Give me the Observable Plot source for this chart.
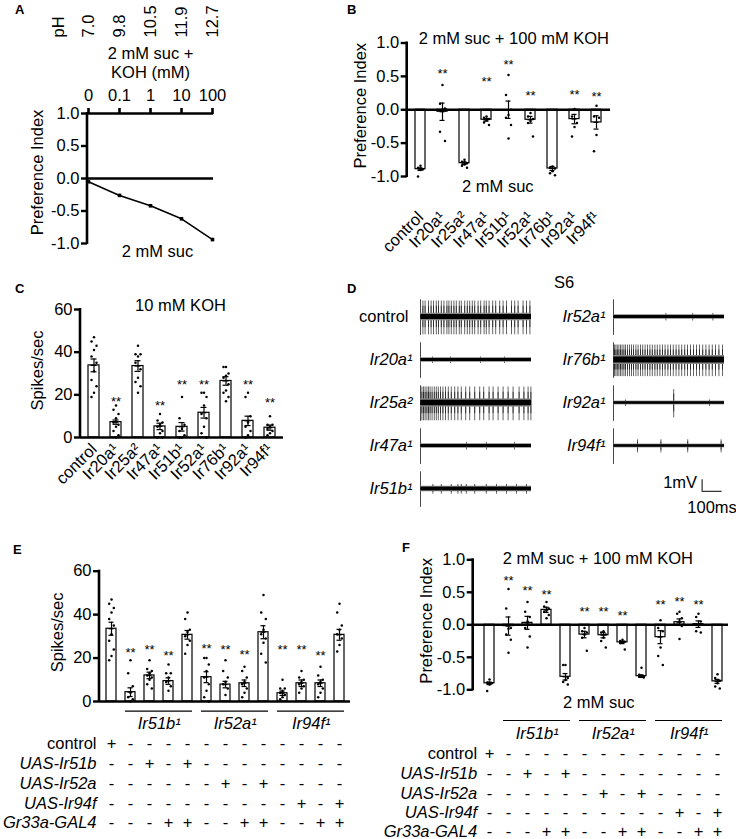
<!DOCTYPE html>
<html><head><meta charset="utf-8">
<script src="https://cdn.jsdelivr.net/npm/d3@7"></script>
<script src="https://cdn.jsdelivr.net/npm/@observablehq/plot@0.6"></script>
<style>
body{margin:0;background:#fff;}
#fig{position:relative;width:736px;height:839px;overflow:hidden;font-family:"Liberation Sans",Arial,sans-serif;background:#fff;}
#fig svg{position:absolute;}
.lt{position:absolute;font-weight:bold;font-size:13px;line-height:13px;}
.tx{position:absolute;font-size:16.5px;line-height:17px;}
</style></head><body><div id="fig"></div>
<script>
// ---------- Panel A ----------
const kohMM = ["0", "0.1", "1", "10", "100"];
const pHValues = ["7.0", "9.8", "10.5", "11.9", "12.7"];
const prefIndexA = [-0.05, -0.26, -0.42, -0.62, -0.94];
const semA = [0.02, 0.015, 0.02, 0.02, 0.02];

// ---------- Panels B / C ----------
const genotypes = ["control", "Ir20a¹", "Ir25a²", "Ir47a¹", "Ir51b¹", "Ir52a¹", "Ir76b¹", "Ir92a¹", "Ir94f¹"];
const prefIndexB = [-0.89, -0.03, -0.80, -0.15, 0.00, -0.15, -0.88, -0.14, -0.19];
const semB = [0.02, 0.13, 0.02, 0.02, 0.13, 0.05, 0.03, 0.07, 0.10];
const pointsB = [
  [-0.84, -0.87, -0.89, -0.90, -1.00],
  [0.37, 0.09, 0.02, -0.02, -0.33, -0.47],
  [-0.75, -0.78, -0.80, -0.82, -0.84, -0.87],
  [-0.10, -0.12, -0.14, -0.16, -0.19, -0.23],
  [0.52, 0.22, 0.00, -0.08, -0.12, -0.23, -0.43],
  [-0.05, -0.10, -0.14, -0.17, -0.20, -0.40],
  [-0.85, -0.87, -0.88, -0.92, -0.95, -0.98],
  [0.01, -0.10, -0.20, -0.26, -0.40],
  [0.06, -0.10, -0.12, -0.38, -0.62]
];
const starsB = [null, 0.54, null, 0.415, 0.666, 0.215, null, 0.23, 0.20];

const spikesC = [33.8, 7.2, 33.5, 5.2, 5.0, 11.6, 26.5, 7.8, 4.6];
const semC = [3.0, 1.0, 2.5, 1.5, 2.0, 2.5, 2.0, 2.2, 1.2];
const pointsC = [
  [47, 45, 43, 41, 38, 35, 31, 27, 24, 21, 19],
  [15, 13, 11, 9, 7, 6, 5, 3, 1, 0],
  [43, 39, 39, 38, 35, 32, 28, 26, 24, 21],
  [11, 8, 7, 6, 5, 3, 2, 0, 0],
  [19, 9, 6, 4, 3, 1, 0, 0],
  [21, 21, 19, 15, 11, 9, 5, 2, 0],
  [33, 33, 30, 29, 28, 25, 22, 21, 19, 17],
  [21, 19, 10, 7, 5, 3, 1, 0],
  [10, 6, 6, 5, 4, 3, 2, 1]
];
const starsC = [null, 16.9, null, 15.0, 24.5, 24.5, null, 24.5, 16.3];

// ---------- Panel D (S6 recordings, 10 mM KOH) ----------
const traceNames = ["control", "Ir20a¹", "Ir25a²", "Ir47a¹", "Ir51b¹", "Ir52a¹", "Ir76b¹", "Ir92a¹", "Ir94f¹"];
const traceNoise = [0.22, 0.13, 0.24, 0.13, 0.16, 0.13, 0.26, 0.11, 0.11];
const traceSpikeTimes = [
  [12, 23, 40, 53, 65, 79, 90, 104, 117, 132, 142, 154, 167, 179, 194, 204, 221, 234, 246, 259, 271, 288, 301, 318, 329, 343, 361, 376, 396, 413, 430, 455, 471, 488, 513, 530, 547],
  [60, 150, 300, 420],
  [7, 15, 23, 32, 40, 48, 58, 69, 79, 89, 100, 112, 125, 139, 154, 171, 187, 204, 226, 246, 271, 296, 316, 343, 363, 388, 413, 438, 463, 493, 517, 538, 552],
  [230, 330, 470],
  [62, 104, 154, 187, 204, 229, 271, 329, 380, 430, 480, 530],
  [262, 396, 497],
  [5, 12, 19, 27, 35, 43, 52, 60, 70, 80, 90, 100, 112, 123, 135, 146, 158, 170, 182, 194, 207, 219, 232, 245, 258, 272, 285, 299, 313, 327, 341, 356, 370, 385, 400, 415, 430, 446, 462, 478, 494, 510, 527, 545],
  [60, 301, 480],
  [120, 237, 371, 538]
];
const traceSpikeAmp = [1.55, 0.3, 1.55, 0.35, 0.45, 0.35, 1.45, [0.3, 1.3, 0.3], 0.6];

// ---------- Panels E / F (rescue) ----------
const spikesE = [33.5, 4.3, 12.0, 9.4, 30.7, 11.2, 7.8, 8.4, 31.9, 3.8, 8.4, 8.4, 30.7];
const semE = [3.0, 2.0, 1.5, 1.5, 2.0, 2.5, 1.5, 1.5, 3.0, 1.0, 1.5, 1.5, 2.5];
const pointsE = [
  [47, 45, 43, 41, 38, 35, 31, 28, 24, 21, 19],
  [19, 13, 7, 4, 2, 1, 0],
  [19, 15, 14, 13, 12, 11, 10, 8, 6],
  [17, 13, 13, 11, 9, 7, 5],
  [41, 38, 33, 32, 30, 28, 26, 22],
  [20, 20, 17, 14, 11, 8, 5, 2, 0],
  [19, 14, 11, 9, 8, 6, 3],
  [16, 14, 11, 9, 8, 6, 4, 2],
  [49, 41, 38, 33, 31, 29, 27, 22, 18],
  [10, 6, 6, 5, 4, 3, 2, 1],
  [14, 11, 10, 9, 8, 7, 6, 4],
  [16, 12, 10, 9, 8, 6, 4, 2],
  [45, 41, 35, 33, 31, 29, 26, 23]
];
const starsE = [null, 22.4, 23.9, 21.2, null, 24.2, 23.9, 21.5, null, 23.9, 23.9, 21.2, null];

const prefIndexF = [-0.90, -0.02, 0.03, 0.23, -0.80, -0.15, -0.16, -0.27, -0.79, -0.19, 0.04, 0.01, -0.87];
const semF = [0.02, 0.14, 0.10, 0.04, 0.05, 0.05, 0.04, 0.02, 0.02, 0.10, 0.05, 0.05, 0.03];
const pointsF = [
  [-0.84, -0.89, -0.90, -0.92, -1.02],
  [0.55, 0.25, -0.05, -0.06, -0.15, -0.23, -0.43],
  [0.35, 0.20, 0.12, 0.05, -0.05, -0.18, -0.35],
  [0.35, 0.28, 0.25, 0.22, 0.20, 0.15, 0.10],
  [-0.62, -0.62, -0.82, -0.85, -0.88, -0.92],
  [-0.05, -0.10, -0.12, -0.15, -0.20, -0.40],
  [-0.10, -0.12, -0.15, -0.20, -0.25, -0.35],
  [-0.23, -0.25, -0.26, -0.27, -0.28, -0.38],
  [-0.66, -0.77, -0.79, -0.80, -0.80, -0.81],
  [0.07, -0.05, -0.10, -0.35, -0.48, -0.62],
  [0.20, 0.17, 0.10, 0.05, 0.00, -0.02, -0.22],
  [0.17, 0.12, 0.05, 0.00, -0.10, -0.12],
  [-0.76, -0.82, -0.86, -0.90, -0.95, -0.98]
];
const starsF = [null, 0.67, 0.53, 0.46, null, 0.195, 0.195, 0.14, null, 0.30, 0.36, 0.30, null];

const rescueRows = ["control", "UAS-Ir51b", "UAS-Ir52a", "UAS-Ir94f", "Gr33a-GAL4"];
const rescueSigns = ["+------------", "--+-+--------", "------+-+----", "----------+-+", "---++--++--++"];
const mutantGroups = ["Ir51b¹", "Ir52a¹", "Ir94f¹"];
const groupFirstCol = [1, 5, 9];
const groupLastCol = [4, 8, 12];

// ================= drawing =================
const FONT = "Liberation Sans, Arial, sans-serif";
const fig = document.getElementById("fig");
function place(svg, left, top) { svg.style.left = left + "px"; svg.style.top = top + "px"; fig.appendChild(svg); }
function css(fs) { return {fontFamily: FONT, fontSize: fs + "px", background: "transparent", overflow: "visible"}; }
function htmlText(cls, txt, left, top) {
  const d = document.createElement("div"); d.className = cls; d.textContent = txt;
  d.style.left = left + "px"; d.style.top = top + "px"; fig.appendChild(d);
}
const yAxisLine = (index, scales, values, d) => {
  const el = document.createElementNS("http://www.w3.org/2000/svg", "line");
  el.setAttribute("x1", d.marginLeft); el.setAttribute("x2", d.marginLeft);
  el.setAttribute("y1", d.marginTop - 1); el.setAttribute("y2", d.height - d.marginBottom + 1);
  el.setAttribute("stroke", "black"); el.setAttribute("stroke-width", 2.6);
  return el;
};
const fmt1 = d => d.toFixed(1);
const yLabel = (txt, dx, dy) => Plot.text([txt], {frameAnchor: "left", rotate: -90, textAnchor: "middle", lineAnchor: "middle", dx, dy});

function barMarks(keys, means, sems, points, stars, jitter) {
  const rows = keys.map((k, i) => ({k, m: means[i], s: sems[i]}));
  const pts = [];
  points.forEach((arr, i) => arr.forEach((v, j) => pts.push({k: keys[i], v, c: [0, -1, 1][j % 3]})));
  const st = stars.map((v, i) => ({k: keys[i], v})).filter(d => d.v != null);
  return [
    Plot.barY(rows, {x: "k", y: "m", fill: "white", stroke: "black", strokeWidth: 1.2}),
    Plot.ruleX(rows, {x: "k", y1: d => d.m - d.s, y2: d => d.m + d.s, strokeWidth: 1.2}),
    Plot.tickY(rows, {x: "k", y: d => d.m + d.s, inset: 2.5, strokeWidth: 1.2}),
    Plot.tickY(rows, {x: "k", y: d => d.m - d.s, inset: 2.5, strokeWidth: 1.2}),
    Plot.tickY(rows, {x: "k", y: "m", inset: 2.5, strokeWidth: 1.2}),
    ...[-1, 0, 1].map(c => Plot.dot(pts.filter(p => p.c === c), {x: "k", y: "v", r: 1.25, fill: "black", dx: c * jitter})),
    Plot.text(st, {x: "k", y: "v", text: () => "**", fontSize: 13}),
    Plot.ruleY([0], {strokeWidth: 2.6}),
    yAxisLine
  ];
}

// ---- A ----
const dataA = kohMM.map((k, i) => ({k, ph: pHValues[i], m: prefIndexA[i], s: semA[i]}));
place(Plot.plot({
  width: 360, height: 290, marginLeft: 87, marginRight: 147, marginTop: 113, marginBottom: 47,
  style: css(16.5),
  x: {type: "point", domain: kohMM, padding: 0},
  y: {domain: [-1, 1]},
  marks: [
    Plot.ruleY([1, 0], {strokeWidth: 2.6}),
    yAxisLine,
    Plot.axisX({anchor: "top", tickSize: 6, tickPadding: 7, strokeWidth: 2.6, label: null}),
    Plot.axisY({ticks: [-1, -0.5, 0, 0.5, 1], tickFormat: fmt1, tickSize: 6, tickPadding: 2, strokeWidth: 2.4, label: null}),
    Plot.line(dataA, {x: "k", y: "m", strokeWidth: 1.6}),
    Plot.ruleX(dataA, {x: "k", y1: d => d.m - d.s, y2: d => d.m + d.s, strokeWidth: 1.5}),
    Plot.dot(dataA, {x: "k", y: "m", symbol: "square", r: 2, fill: "black"}),
    Plot.text(dataA, {x: "k", text: "ph", frameAnchor: "top", rotate: -90, textAnchor: "start", lineAnchor: "middle", dy: -76}),
    Plot.text(["pH"], {x: () => kohMM[0], frameAnchor: "top", rotate: -90, textAnchor: "start", lineAnchor: "middle", dy: -76, dx: -30}),
    Plot.text(["2 mM suc +"], {frameAnchor: "top", dy: -60, lineAnchor: "middle"}),
    Plot.text(["KOH (mM)"], {frameAnchor: "top", dy: -41, lineAnchor: "middle"}),
    Plot.text(["2 mM suc"], {frameAnchor: "bottom", dy: 8, dx: 7, lineAnchor: "middle"}),
    yLabel("Preference Index", -50, -6)
  ]
}), 0, 0);

// ---- B ----
place(Plot.plot({
  width: 396, height: 300, marginLeft: 66.7, marginRight: 126, marginTop: 42.5, marginBottom: 124,
  style: css(16.5),
  x: {type: "band", domain: genotypes, paddingInner: 0.55, paddingOuter: 0.29, align: 0.45},
  y: {domain: [-1, 1]},
  marks: [
    ...barMarks(genotypes, prefIndexB, semB, pointsB, starsB, 2.5),
    Plot.axisY({ticks: [-1, -0.5, 0, 0.5, 1], tickFormat: fmt1, tickSize: 6, tickPadding: 2, strokeWidth: 2.4, label: null}),
    Plot.axisX({tickRotate: -45, tickSize: 0, tickPadding: 38, label: null}),
    Plot.text(["2 mM suc + 100 mM KOH"], {frameAnchor: "top", dx: 5, dy: -4.5, lineAnchor: "middle"}),
    Plot.text(["2 mM suc"], {frameAnchor: "bottom", dx: -11, dy: 10, lineAnchor: "middle"}),
    yLabel("Preference Index", -46, -4)
  ]
}), 340, 0);

// ---- C ----
place(Plot.plot({
  width: 360, height: 220, marginLeft: 80, marginRight: 77, marginTop: 19, marginBottom: 73,
  style: css(16.5),
  x: {type: "band", domain: genotypes, paddingInner: 0.52, paddingOuter: 0.3},
  y: {domain: [0, 60]},
  marks: [
    ...barMarks(genotypes, spikesC, semC, pointsC, starsC, 2.5),
    Plot.axisY({ticks: [0, 20, 40, 60], tickSize: 6, tickPadding: 2, strokeWidth: 2.4, label: null}),
    Plot.axisX({tickRotate: -45, tickSize: 0, tickPadding: 9, label: null}),
    Plot.text(["10 mM KOH"], {frameAnchor: "top", dx: -1.5, dy: -4, lineAnchor: "middle"}),
    yLabel("Spikes/sec", -43, -3)
  ]
}), 0, 290);

// ---- D ----
const traces = traceNames.map((name, i) => ({name, col: i < 5 ? 0 : 1, row: i < 5 ? i : i - 5, noise: traceNoise[i]}));
const spikeRows = [];
traceSpikeTimes.forEach((ts, i) => ts.forEach((t, j) => {
  const a = Array.isArray(traceSpikeAmp[i]) ? traceSpikeAmp[i][j] : traceSpikeAmp[i];
  spikeRows.push({col: traces[i].col, row: traces[i].row, t, a});
}));
const scaleBarCell = [{col: 1, row: 4}];
place(Plot.plot({
  width: 376, height: 260, marginLeft: 60, marginRight: 11, marginTop: 25, marginBottom: 21,
  style: css(16.5),
  fx: {domain: [0, 1], axis: null, paddingInner: 0.42, paddingOuter: 0},
  fy: {domain: [0, 1, 2, 3, 4], axis: null, paddingInner: 0.1, paddingOuter: 0},
  x: {domain: [0, 560], axis: null},
  y: {domain: [-1.7, 1.7], axis: null},
  marks: [
    Plot.ruleX(spikeRows, {fx: "col", fy: "row", x: "t", y1: d => -d.a, y2: d => d.a * 0.9, stroke: "#555", strokeWidth: 0.9}),
    Plot.ruleX(spikeRows, {fx: "col", fy: "row", x: "t", y1: d => -d.a * 0.6, y2: d => d.a * 0.6, stroke: "#111", strokeWidth: 0.7}),
    Plot.ruleX(traces, {fx: "col", fy: "row", x: () => 0, y1: () => -1.6, y2: () => 1.5, stroke: "#333", strokeWidth: 0.9}),
    Plot.rect(traces, {fx: "col", fy: "row", x1: () => 1, x2: () => 555, y1: d => -d.noise * 1.5, y2: d => d.noise * 1.5, fill: "#888"}),
    Plot.rect(traces, {fx: "col", fy: "row", x1: () => 1, x2: () => 555, y1: d => -d.noise, y2: d => d.noise, fill: "black"}),
    Plot.text(traces.filter(d => d.name === "control"), {fx: "col", fy: "row", text: "name", frameAnchor: "left", textAnchor: "end", dx: -12}),
    Plot.text(traces.filter(d => d.name !== "control"), {fx: "col", fy: "row", text: "name", frameAnchor: "left", textAnchor: "end", dx: -8, fontStyle: "italic"}),
    Plot.ruleX(scaleBarCell, {fx: "col", fy: "row", x: () => 443, y1: () => -0.2, y2: () => 0.8, strokeWidth: 1}),
    Plot.ruleY(scaleBarCell, {fx: "col", fy: "row", y: () => -0.2, x1: () => 443, x2: () => 543, strokeWidth: 1}),
    Plot.text(scaleBarCell, {fx: "col", fy: "row", x: () => 443, y: () => 0.55, text: () => "1mV", textAnchor: "end", dx: -5}),
    Plot.text(scaleBarCell, {fx: "col", fy: "row", x: () => 493, y: () => -1.6, text: () => "100ms"})
  ]
}), 360, 270);

// ---- E / F ----
const colsEF = spikesE.map((_, i) => i);
function tableMarks(rowDy, labelDx, lineY, groupLineDy, groupLabelDy) {
  const marks = [];
  rescueRows.forEach((name, r) => {
    const cells = colsEF.map(c => ({c, s: rescueSigns[r][c]}));
    marks.push(Plot.text(cells, {x: "c", text: "s", frameAnchor: "bottom", dy: rowDy[r], lineAnchor: "middle"}));
    marks.push(Plot.text([name], {frameAnchor: "bottom-left", textAnchor: "end", dx: labelDx, dy: rowDy[r], lineAnchor: "middle", fontStyle: r === 0 ? "normal" : "italic"}));
  });
  const groups = mutantGroups.map((g, i) => ({g, a: groupFirstCol[i], b: groupLastCol[i], mid: groupFirstCol[i] + 1}));
  marks.push(Plot.ruleY(groups, {x1: "a", x2: "b", y: () => lineY, dy: groupLineDy, strokeWidth: 1.2}));
  marks.push(Plot.text(groups, {x: "mid", text: "g", frameAnchor: "bottom", dx: 9.7, dy: groupLabelDy, lineAnchor: "middle", fontStyle: "italic"}));
  return marks;
}

place(Plot.plot({
  width: 370, height: 300, marginLeft: 99, marginRight: 20, marginTop: 30.7, marginBottom: 139,
  style: css(16.5),
  x: {type: "band", domain: colsEF, paddingInner: 0.48, paddingOuter: 0.26, align: 0.55, axis: null},
  y: {domain: [0, 60]},
  marks: [
    ...barMarks(colsEF, spikesE, semE, pointsE, starsE, 2.3),
    Plot.axisY({ticks: [0, 20, 40, 60], tickSize: 6, tickPadding: 2, strokeWidth: 2.4, label: null}),
    yLabel("Spikes/sec", -42, -4),
    ...tableMarks([42, 62, 82, 102, 121], -3, 0, 9.7, 22)
  ]
}), 0, 540);

place(Plot.plot({
  width: 366, height: 300, marginLeft: 102.7, marginRight: 8, marginTop: 19.3, marginBottom: 150.7,
  style: css(16.5),
  x: {type: "band", domain: colsEF, paddingInner: 0.486, paddingOuter: 0.31, align: 0.667, axis: null},
  y: {domain: [-1, 1]},
  marks: [
    ...barMarks(colsEF, prefIndexF, semF, pointsF, starsF, 2.3),
    Plot.axisY({ticks: [-1, -0.5, 0, 0.5, 1], tickFormat: fmt1, tickSize: 6, tickPadding: 2, strokeWidth: 2.4, label: null}),
    Plot.text(["2 mM suc + 100 mM KOH"], {frameAnchor: "top", dx: -3, dy: -1, lineAnchor: "middle"}),
    Plot.text(["2 mM suc"], {frameAnchor: "bottom", dx: -2, dy: 12.7, lineAnchor: "middle"}),
    yLabel("Preference Index", -46, -4),
    ...tableMarks([63.7, 83.7, 103.7, 122.7, 142], 4, -1, 30.7, 43.7)
  ]
}), 370, 540);

// panel letters & headers
htmlText("lt", "A", 15, 3);
htmlText("lt", "B", 347, 3);
htmlText("lt", "C", 15, 282);
htmlText("lt", "D", 347, 282);
htmlText("lt", "E", 13, 543);
htmlText("lt", "F", 402, 541);
htmlText("tx", "S6", 554, 274);
</script></body></html>
